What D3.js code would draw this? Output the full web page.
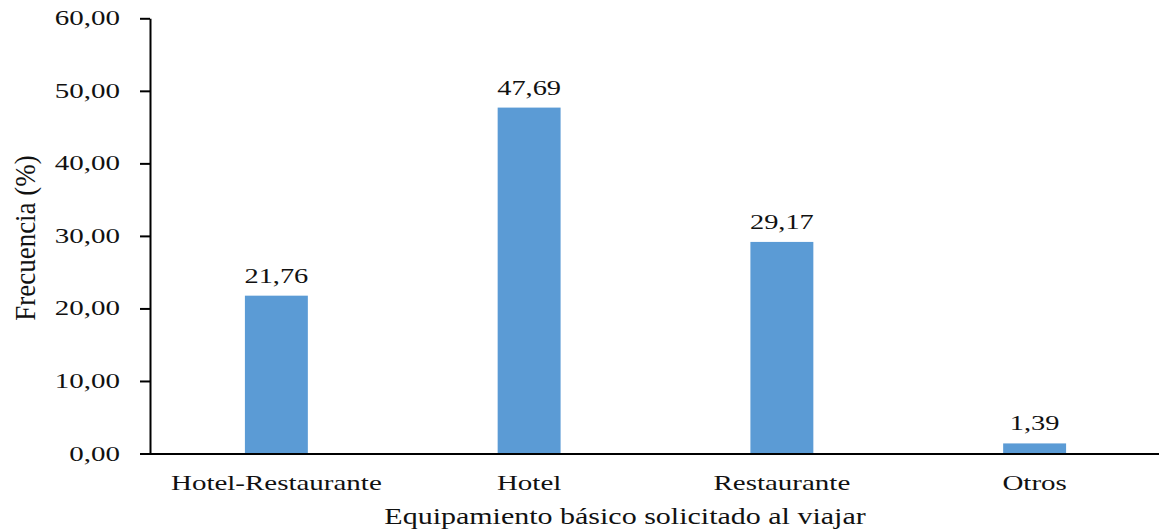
<!DOCTYPE html>
<html>
<head>
<meta charset="utf-8">
<script src="https://cdn.jsdelivr.net/npm/d3@7"></script>
<style>
  html, body { margin: 0; padding: 0; background: #fff; }
  text { font-family: "Liberation Serif", "Times New Roman", serif; fill: #111; }
</style>
</head>
<body>
<svg id="chart" width="1159" height="531"></svg>
<script>
const categories = ["Hotel-Restaurante", "Hotel", "Restaurante", "Otros"];
const values = [21.76, 47.69, 29.17, 1.39];
const yTicks = [0, 10, 20, 30, 40, 50, 60];
const xTitle = "Equipamiento básico solicitado al viajar";
const yTitle = "Frecuencia (%)";

const svg = d3.select("#chart");
const fmt = v => d3.format(".2f")(v).replace(".", ",");

const x = d3.scaleBand().domain(categories).range([150, 1161]).paddingInner(0.751).paddingOuter(0.3755);
const y = d3.scaleLinear().domain([0, 60]).range([453.5, 18.3]);

// bars
svg.append("g").selectAll("rect").data(values).join("rect")
  .attr("x", (d, i) => x(categories[i]))
  .attr("width", x.bandwidth())
  .attr("y", d => y(d))
  .attr("height", d => y(0) - y(d))
  .attr("fill", "#5B9BD5");

// y axis
const yAxis = svg.append("g").attr("transform", "translate(150,0)")
  .call(d3.axisLeft(y).tickValues(yTicks).tickSize(10).tickSizeOuter(0).tickFormat(() => ""));
yAxis.select(".domain").attr("stroke", "#000").attr("stroke-width", 2);
yAxis.selectAll(".tick line").attr("stroke", "#000").attr("stroke-width", 2);

// x axis line
const xAxis = svg.append("g").attr("transform", `translate(0,${y(0)})`)
  .call(d3.axisBottom(x).tickSize(0).tickSizeOuter(0).tickFormat(() => ""));
xAxis.select(".domain").attr("d", `M140,0.5H1159`).attr("stroke", "#000").attr("stroke-width", 2);

// y tick labels
svg.append("g").selectAll("text").data(yTicks).join("text")
  .attr("transform", d => `translate(120,${y(d) + 7}) scale(1.45,1)`)
  .attr("text-anchor", "end")
  .attr("font-size", 20)
  .text(d => fmt(d));

// value labels
svg.append("g").selectAll("text").data(values).join("text")
  .attr("transform", (d, i) => `translate(${x(categories[i]) + x.bandwidth() / 2},${y(d) - 13}) scale(1.42,1)`)
  .attr("text-anchor", "middle")
  .attr("font-size", 20)
  .text(d => fmt(d));

// category labels
svg.append("g").selectAll("text").data(categories).join("text")
  .attr("transform", d => `translate(${x(d) + x.bandwidth() / 2},490) scale(1.38,1)`)
  .attr("text-anchor", "middle")
  .attr("font-size", 21)
  .text(d => d);

// axis titles
svg.append("text")
  .attr("transform", "translate(625,524) scale(1.25,1)")
  .attr("text-anchor", "middle")
  .attr("font-size", 24)
  .text(xTitle);

svg.append("text")
  .attr("transform", "translate(35,238) scale(1.12,1) rotate(-90)")
  .attr("text-anchor", "middle")
  .attr("font-size", 27)
  .text(yTitle);
</script>
</body>
</html>
